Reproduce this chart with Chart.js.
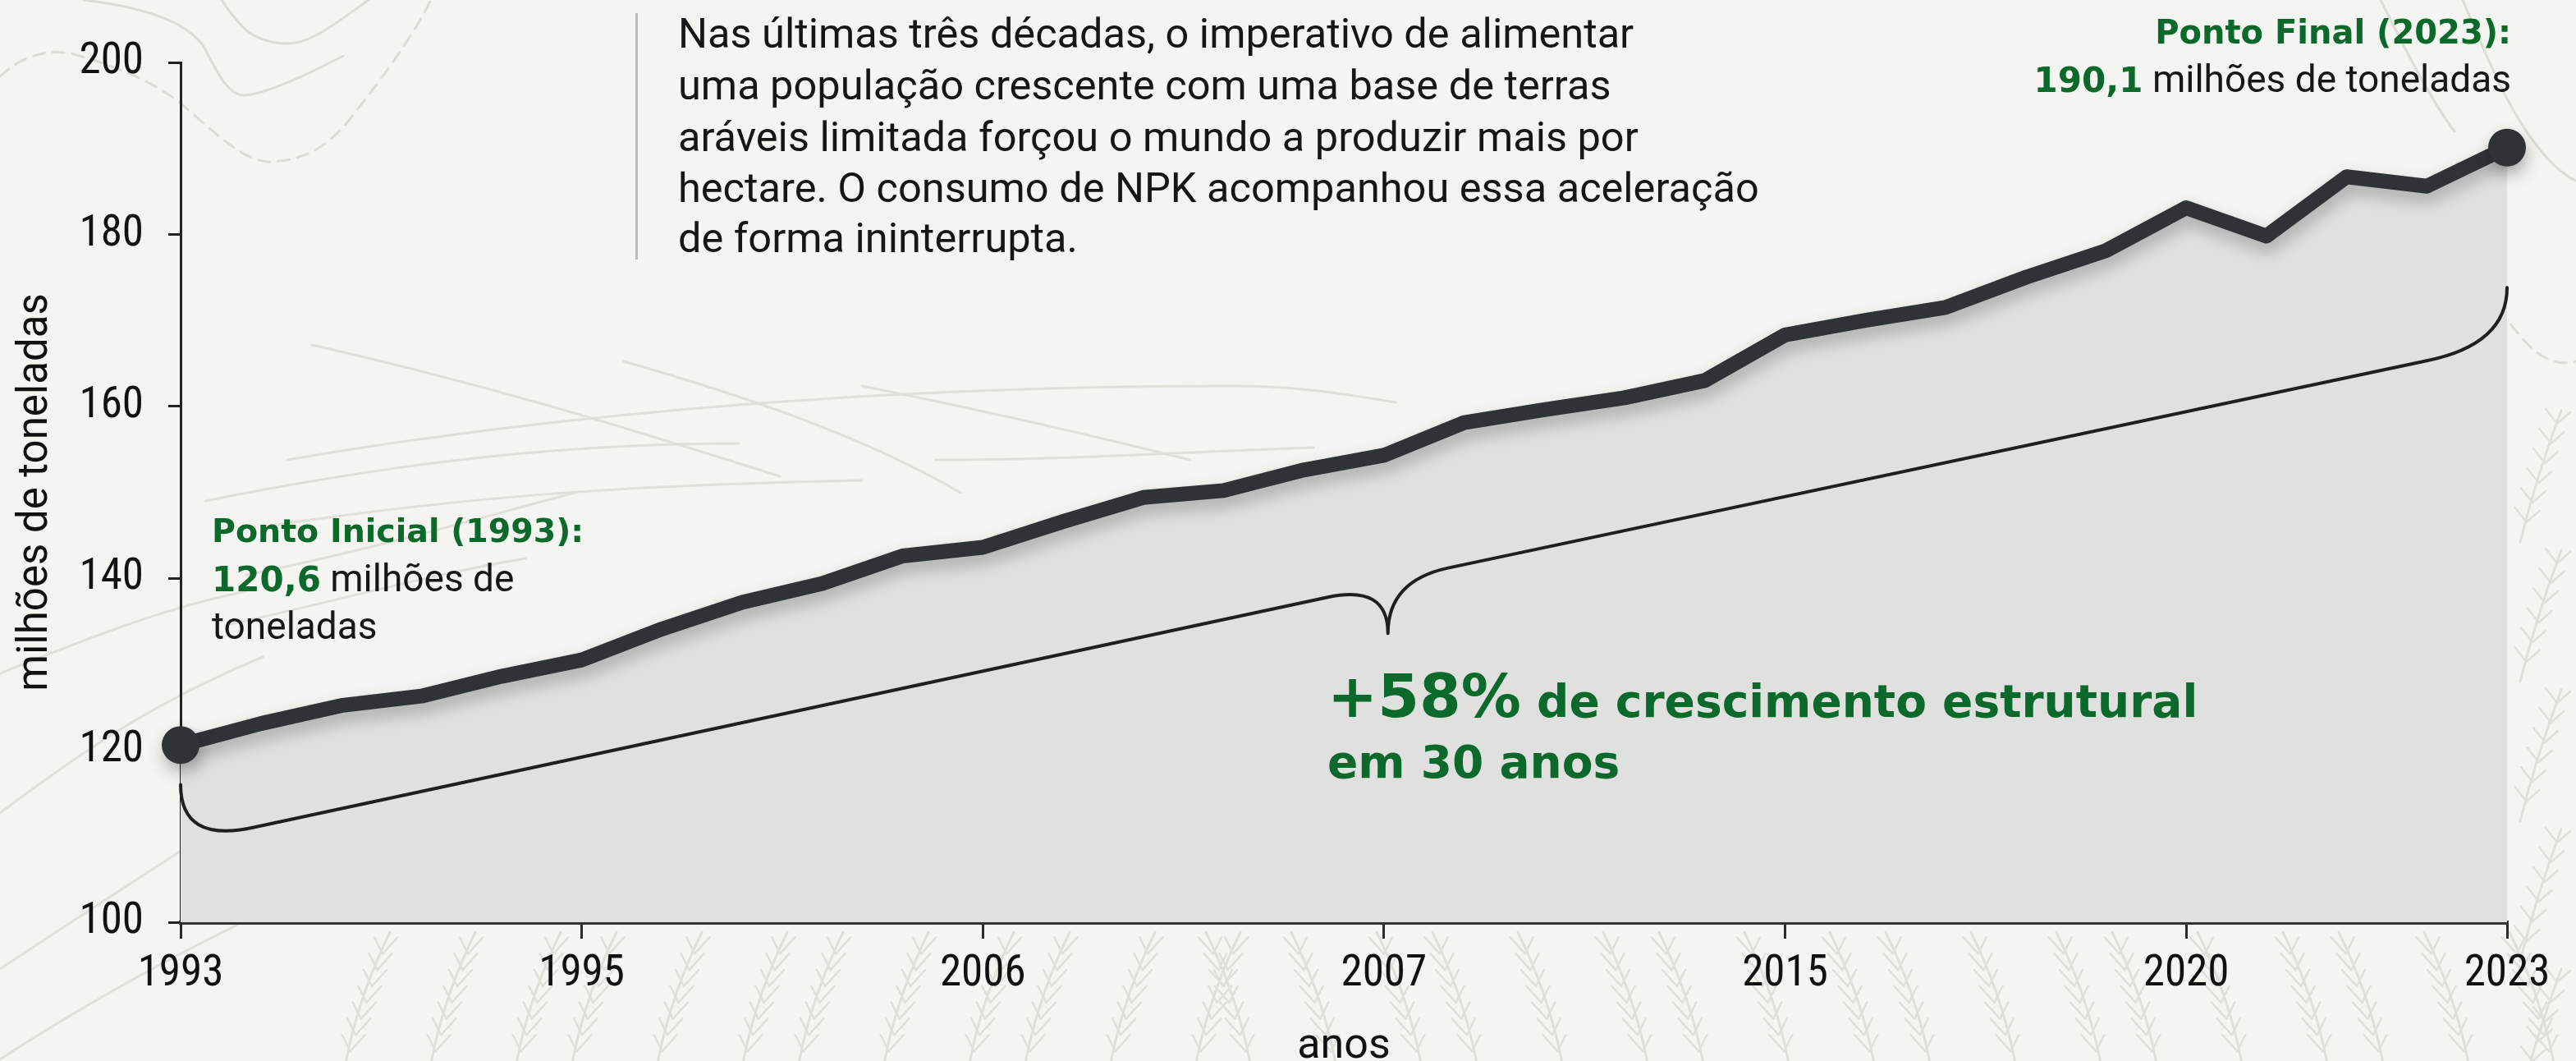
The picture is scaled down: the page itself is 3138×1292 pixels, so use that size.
<!DOCTYPE html>
<html><head><meta charset="utf-8">
<script src="https://cdn.jsdelivr.net/npm/chart.js@4.4.1/dist/chart.umd.min.js"></script>
<style>
html,body{margin:0;padding:0;background:#f4f4f0;}
#wrap{position:relative;width:3138px;height:1292px;overflow:hidden;background:#f4f4f0;}
#bg,#fg{position:absolute;left:0;top:0;}
#c{position:absolute;left:0;top:0;}
</style></head>
<body>
<div id="wrap">
<svg id="bg" width="3138" height="1292" xmlns="http://www.w3.org/2000/svg"></svg>
<canvas id="c" width="3138" height="1292"></canvas>
<svg id="fg" width="3138" height="1292" xmlns="http://www.w3.org/2000/svg">
  <rect x="774" y="16" width="3" height="300" fill="#bdbdb9"/>
  <g font-family="Roboto, 'Open Sans', sans-serif" font-size="50.5" fill="#161616">
    <text x="826" y="58">Nas últimas três décadas, o imperativo de alimentar</text>
    <text x="826" y="121">uma população crescente com uma base de terras</text>
    <text x="826" y="184">aráveis limitada forçou o mundo a produzir mais por</text>
    <text x="826" y="246">hectare. O consumo de NPK acompanhou essa aceleração</text>
    <text x="826" y="307">de forma ininterrupta.</text>
  </g>
  <text x="3059" y="53" text-anchor="end" font-family="'DejaVu Sans', sans-serif" font-weight="bold" font-size="40" fill="#0b6a2b">Ponto Final (2023):</text>
  <text x="3059" y="112" text-anchor="end"><tspan font-family="'DejaVu Sans', sans-serif" font-weight="bold" font-size="42" fill="#0b6a2b">190,1</tspan><tspan font-family="Roboto, sans-serif" font-size="46" fill="#161616"> milhões de toneladas</tspan></text>
  <text x="258" y="660" font-family="'DejaVu Sans', sans-serif" font-weight="bold" font-size="39.5" fill="#0b6a2b">Ponto Inicial (1993):</text>
  <text x="258" y="720"><tspan font-family="'DejaVu Sans', sans-serif" font-weight="bold" font-size="42" fill="#0b6a2b">120,6</tspan><tspan font-family="Roboto, sans-serif" font-size="46" fill="#161616"> milhões de</tspan></text>
  <text x="258" y="778" font-family="Roboto, sans-serif" font-size="46" fill="#161616">toneladas</text>
  <text x="1617" y="873" font-family="'DejaVu Sans', sans-serif" font-weight="bold" fill="#0b6a2b"><tspan font-size="73">+58%</tspan><tspan font-size="55"> de crescimento estrutural</tspan></text>
  <text x="1617" y="947" font-family="'DejaVu Sans', sans-serif" font-weight="bold" font-size="55" fill="#0b6a2b">em 30 anos</text>
</svg>
</div>
<script>
// ---- data ----
const categories = [0,1,2,3,4,5,6,7,8,9,10,11,12,13,14,15,16,17,18,19,20,21,22,23,24,25,26,27,28,29];
const values = [120.6,123.1,125.2,126.3,128.6,130.5,134.1,137.2,139.4,142.6,143.6,146.6,149.4,150.2,152.6,154.3,158.1,159.6,161.0,163.0,168.3,170.0,171.5,175.0,178.1,183.1,179.8,186.7,185.6,190.1];
const tickPositions = [0,5,10,15,20,25,29];
const tickLabels = ['1993','1995','2006','2007','2015','2020','2023'];
const yTicks = [100,120,140,160,180,200];

// ---- background decoration ----
(function(){
  const svg = document.getElementById('bg');
  const NS = 'http://www.w3.org/2000/svg';
  function path(d, col, w, dash){
    const p = document.createElementNS(NS,'path');
    p.setAttribute('d', d); p.setAttribute('fill','none');
    p.setAttribute('stroke', col); p.setAttribute('stroke-width', w);
    p.setAttribute('stroke-linecap','round');
    if (dash) p.setAttribute('stroke-dasharray', dash);
    svg.appendChild(p);
  }
  const lc = '#dcdcd5';
  path('M102 0 C170 8 230 25 250 60 C268 95 280 118 300 116 C330 112 380 88 418 68', lc, 3);
  path('M270 0 C290 30 305 50 345 53 C375 55 400 35 449 0', lc, 3);
  path('M0 93 C25 70 55 58 90 66 C140 80 190 100 225 130 C265 165 300 198 330 197 C370 195 400 180 430 140 C470 90 505 40 525 0', lc, 3, '14 10');
  path('M2900 0 C2930 60 2960 120 2990 160', lc, 3);
  path('M3000 0 C3030 70 3060 150 3110 200 C3125 215 3138 220 3138 220', lc, 3);
  path('M2960 230 C3000 300 3040 380 3080 420 C3100 440 3120 445 3138 440', lc, 3, '14 10');
  const fl = '#e0e0d9';
  path('M350 560 C700 500 1100 470 1500 470 C1580 470 1640 480 1700 490', fl, 3);
  path('M250 610 C500 560 700 540 900 540', fl, 3);
  path('M330 640 C600 600 800 590 1050 585', fl, 3);
  path('M380 420 C600 470 760 520 950 580', fl, 3);
  path('M760 440 C900 480 1050 530 1170 600', fl, 3);
  path('M1050 470 C1200 500 1330 530 1450 560', fl, 3);
  path('M1140 560 C1300 560 1450 550 1600 545', fl, 3);
  path('M300 700 C450 670 550 640 700 600', fl, 3);
  path('M280 760 C420 730 520 700 640 680', fl, 3);
  path('M0 820 C100 780 200 740 300 720', fl, 3);
  path('M0 990 C120 900 200 850 320 800', fl, 3);
  path('M0 1180 C150 1080 250 1020 330 960', fl, 3);
  path('M0 1290 C200 1160 350 1100 500 1020', fl, 3);
  const sc = '#e0e0d9';
  let k = 0;
  for (let x = 420; x < 3138; x += 92) {
    const dir = (x < 1500) ? 1 : -1;
    const alt = (k % 3) * 12;
    const x0 = x + alt, y0 = 1300, x1 = x0 + dir * 55, y1 = 1135;
    path(`M${x0} ${y0} Q${x0 + dir*15} ${(y0+y1)/2} ${x1} ${y1}`, sc, 3);
    for (let t = 0.12; t < 0.95; t += 0.12) {
      const px = x0 + (x1 - x0) * t, py = y0 + (y1 - y0) * t;
      path(`M${px} ${py} l${-14 + dir*4} ${-20}`, sc, 2.5);
      path(`M${px} ${py} l${14 + dir*4} ${-20}`, sc, 2.5);
    }
    k++;
  }
  for (let y = 500; y < 1292; y += 170) {
    path(`M3070 ${y+160} Q3090 ${y+80} 3120 ${y}`, sc, 3);
    for (let t = 0.15; t < 0.95; t += 0.15) {
      const px = 3070 + 50*t, py = y + 160 - 160*t;
      path(`M${px} ${py} l-14 -18`, sc, 2.5);
      path(`M${px} ${py} l16 -14`, sc, 2.5);
    }
  }
})();

// ---- plugins ----
const lineShadow = {
  id: 'lineShadow',
  beforeDatasetDraw(chart) {
    const c = chart.ctx; c.save();
    c.shadowColor = 'rgba(0,0,0,0.26)'; c.shadowBlur = 20; c.shadowOffsetX = 2; c.shadowOffsetY = 10;
  },
  afterDatasetDraw(chart) { chart.ctx.restore(); }
};
const brace = {
  id: 'brace',
  afterDatasetsDraw(chart) {
    const xs = chart.scales.x, ys = chart.scales.y, c = chart.ctx;
    const P = (i, v) => [xs.getPixelForValue(i), ys.getPixelForValue(v)];
    const first = categories[0], last = categories[categories.length - 1];
    const mid = 15.05;
    c.save();
    c.strokeStyle = '#1d1f20'; c.lineWidth = 4; c.lineJoin = 'round'; c.lineCap = 'round';
    c.beginPath();
    let p = P(first, 116.0); c.moveTo(p[0], p[1]);
    let q = P(first, 109.2); p = P(first + 0.9, 111.0); c.quadraticCurveTo(q[0], q[1], p[0], p[1]);
    p = P(14.3, 137.8); c.lineTo(p[0], p[1]);
    q = P(mid, 139.3); p = P(mid, 133.6); c.quadraticCurveTo(q[0], q[1], p[0], p[1]);
    q = P(mid, 139.7); p = P(15.8, 141.2); c.quadraticCurveTo(q[0], q[1], p[0], p[1]);
    p = P(28.0, 165.3); c.lineTo(p[0], p[1]);
    q = P(last, 167.2); p = P(last, 173.8); c.quadraticCurveTo(q[0], q[1], p[0], p[1]);
    c.stroke();
    c.restore();
  }
};

const tickFont = { family: "'Liberation Sans Narrow', 'Roboto Condensed', Roboto, sans-serif", size: 53 };
new Chart(document.getElementById('c'), {
  type: 'line',
  data: {
    datasets: [{
      data: categories.map((c, i) => ({ x: c, y: values[i] })),
      borderColor: '#2f3336', borderWidth: 18,
      borderJoinStyle: 'round', borderCapStyle: 'round', tension: 0,
      fill: 'start', backgroundColor: '#e0e1df',
      pointRadius: categories.map((c, i) => (i === 0 || i === categories.length - 1) ? 23 : 0),
      pointBackgroundColor: '#2f3336', pointBorderWidth: 0, pointHoverRadius: 0,
      clip: false
    }]
  },
  options: {
    responsive: false, animation: false, events: [],
    layout: { padding: { top: 76, right: 84, left: 0, bottom: 0 } },
    plugins: { legend: { display: false }, tooltip: { enabled: false } },
    scales: {
      x: {
        type: 'linear', min: categories[0], max: categories[categories.length - 1],
        afterBuildTicks: s => { s.ticks = tickPositions.map(v => ({ value: v })); },
        afterFit: s => { s.height = 169; },
        ticks: { callback: v => tickLabels[tickPositions.indexOf(v)], font: tickFont, color: '#111', padding: 12, maxRotation: 0, autoSkip: false },
        grid: { drawOnChartArea: false, drawTicks: true, tickLength: 20, color: '#2a2a2a', lineWidth: 3 },
        border: { display: true, color: '#333', width: 5 },
        title: { display: true, text: 'anos', font: { family: 'Roboto, sans-serif', size: 52 }, color: '#111', padding: { top: 0, bottom: -14 } }
      },
      y: {
        min: 100, max: 200,
        afterBuildTicks: s => { s.ticks = yTicks.map(v => ({ value: v })); },
        afterFit: s => { s.width = 220; },
        ticks: { font: tickFont, color: '#111', padding: 30 },
        grid: { drawOnChartArea: false, drawTicks: true, tickLength: 15, color: '#222', lineWidth: 3 },
        border: { display: true, color: '#222', width: 3 },
        title: { display: true, text: 'milhões de toneladas', font: { family: 'Roboto, sans-serif', size: 51 }, color: '#111', padding: { top: 14, bottom: 0 } }
      }
    }
  },
  plugins: [lineShadow, brace]
});
</script>
</body></html>
